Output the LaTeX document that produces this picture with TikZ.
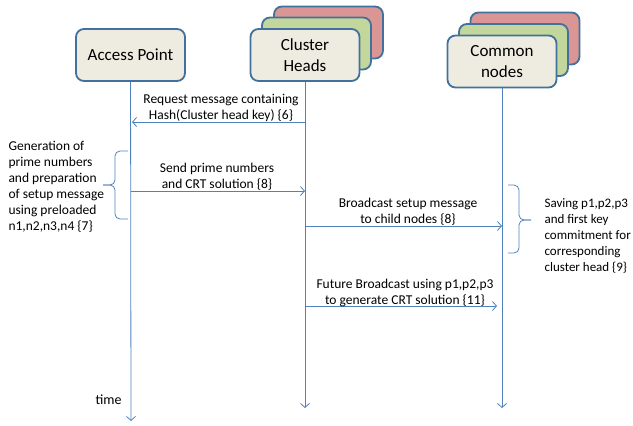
\documentclass[tikz,border=0pt]{standalone}
\usepackage{fontspec}
\setmainfont{Carlito}
\usetikzlibrary{positioning,calc,arrows.meta}
\definecolor{boxfill}{HTML}{EEECE1}
\definecolor{boxline}{HTML}{41719C}
\definecolor{msgline}{HTML}{4F81BD}
\definecolor{greenbox}{HTML}{C3D69B}
\definecolor{redbox}{HTML}{D99694}

\begin{document}
\begin{tikzpicture}[x=1pt,y=-1pt]
        \tikzstyle{ent}=[draw=boxline, line width=1.8pt, rounded corners=8pt, fill=boxfill, minimum width=109pt, minimum height=52pt, align=center, font=\fontsize{17}{21}\selectfont]
        \tikzstyle{msg}=[draw=msgline, line width=0.8pt, -{Straight Barb[length=4pt,width=9pt]}]
        \tikzstyle{lbl}=[font=\fontsize{13.5}{16}\selectfont, align=center]
        \tikzstyle{brc}=[draw=msgline, line width=0.8pt, rounded corners=5pt]
        \useasboundingbox (0,0) rectangle (633,426);

        \node[ent] (ap) at (130.5,55) {Access Point};
        \node[ent, fill=redbox]   (chr) at (328.5,32.5) {};
        \node[ent, fill=greenbox] (chg) at (316.5,43.5) {};
        \node[ent]                (ch)  at (305,55) {Cluster\\Heads};
        \node[ent, fill=redbox]   (cnr) at (525,38.5) {};
        \node[ent, fill=greenbox] (cng) at (513.5,50) {};
        \node[ent]                (cn)  at (502,61.5) {Common\\nodes};

        % lifelines
        \coordinate (apend) at (131,421);
        \coordinate (chend) at (305,408);
        \coordinate (cnend) at (502,408);
        \draw[msg] (ap) -- (apend);
        \draw[msg] (ch) -- (chend);
        \draw[msg] (cn) -- (cnend);

        % messages
        \coordinate (m1a) at (305,122);  \coordinate (m1b) at (132,122);
        \coordinate (m2a) at (131,191);  \coordinate (m2b) at (305,191);
        \coordinate (m3a) at (305,226);  \coordinate (m3b) at (502,226);
        \coordinate (m4a) at (305,306);  \coordinate (m4b) at (497,306);
        \draw[msg] (m1a) -- (m1b);
        \draw[msg] (m2a) -- (m2b);
        \draw[msg] (m3a) -- (m3b);
        \draw[msg] (m4a) -- (m4b);
        \node[lbl] (l1) at (221,107.5) {Request message containing\\Hash(Cluster head key) \{6\}};
        \node[lbl] (l2) at (217,177) {Send prime numbers\\and CRT solution \{8\}};
        \node[lbl] (l3) at (408,211.5) {Broadcast setup message\\to child nodes \{8\}};
        \node[lbl] (l4) at (405,292.5) {Future Broadcast using p1,p2,p3\\to generate CRT solution \{11\}};

        % braces
        \coordinate (b1) at (103,185);
        \coordinate (b2) at (531,220);
        \draw[brc] (b1) -- ++(12,0) -- ++(0,-34) -- ++(13,0);
        \draw[brc] (b1) -- ++(12,0) -- ++(0,34) -- ++(13,0);
        \draw[brc] (b2) -- ++(-12,0) -- ++(0,-35) -- ++(-11,0);
        \draw[brc] (b2) -- ++(-12,0) -- ++(0,33) -- ++(-11,0);
        \node[lbl, align=left, anchor=west] (gen) at (5,186.5) {Generation of\\prime numbers\\and preparation\\of setup message\\using preloaded\\n1,n2,n3,n4 \{7\}};
        \node[lbl, align=left, anchor=west, font=\fontsize{13}{16}\selectfont] (sav) at (541,236) {Saving p1,p2,p3\\and first key\\commitment for\\corresponding\\cluster head \{9\}};

        \node[lbl, anchor=east, font=\fontsize{14}{16}\selectfont] (time) at (125,400) {time};
    \end{tikzpicture}
\end{document}
